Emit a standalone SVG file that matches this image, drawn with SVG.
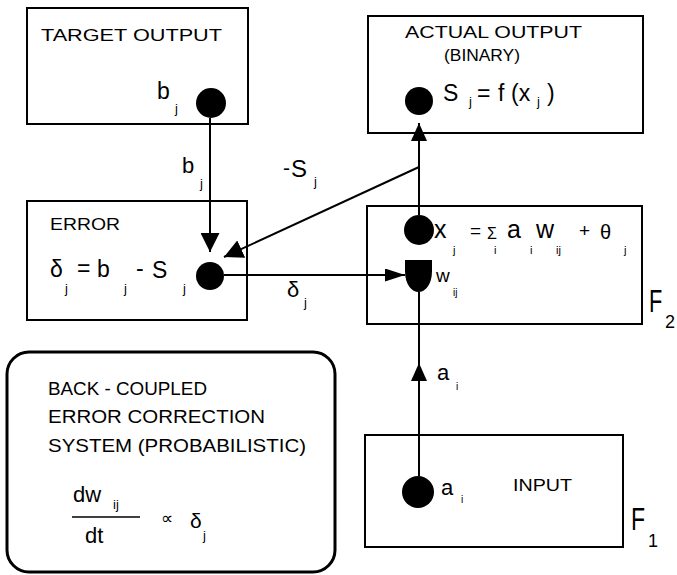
<svg xmlns="http://www.w3.org/2000/svg" width="677" height="575" viewBox="0 0 677 575">
<style>
.box{fill:none;stroke:#000;stroke-width:2}
.ln{fill:none;stroke:#000;stroke-width:2}
.dot{fill:#000}
text{font-family:"Liberation Sans","DejaVu Sans",sans-serif;fill:#000}
.lbl{font-size:17px}
.m{font-size:23px}
.s{font-size:13px}
.big{font-size:32px}
</style>
<defs>
<marker id="ah" viewBox="0 0 10 10" refX="10" refY="5" markerWidth="19" markerHeight="19" markerUnits="userSpaceOnUse" orient="auto"><path d="M0,0 L10,5 L0,10 Z" fill="#000"/></marker>
<marker id="ahv" viewBox="0 0 10 10" refX="10" refY="5" markerWidth="18" markerHeight="16" markerUnits="userSpaceOnUse" orient="auto" preserveAspectRatio="none"><path d="M0,0 L10,5 L0,10 Z" fill="#000"/></marker>
<marker id="ahn" viewBox="0 0 10 10" refX="10" refY="5" markerWidth="20" markerHeight="13" markerUnits="userSpaceOnUse" orient="auto" preserveAspectRatio="none"><path d="M0,0 L10,5 L0,10 Z" fill="#000"/></marker>
</defs>
<rect width="677" height="575" fill="#fff"/>

<g id="target">
<rect class="box" x="27" y="8" width="221" height="116"/>
<text class="lbl" x="41" y="41" textLength="181" lengthAdjust="spacingAndGlyphs">TARGET OUTPUT</text>
<text class="m" x="157" y="99">b</text>
<text class="s" x="175" y="113">j</text>
<circle class="dot" cx="211" cy="103" r="15"/>
</g>

<g id="actual">
<rect class="box" x="368" y="16" width="275" height="117"/>
<text class="lbl" x="405" y="38" textLength="177" lengthAdjust="spacingAndGlyphs">ACTUAL OUTPUT</text>
<text class="lbl" x="444" y="61" textLength="76" lengthAdjust="spacingAndGlyphs">(BINARY)</text>
<circle class="dot" cx="419" cy="101" r="14"/>
<text class="m" x="443" y="101">S</text>
<text class="s" x="469" y="106">j</text>
<text class="m" x="477" y="101">=</text>
<text class="m" x="498" y="101">f</text>
<text class="m" x="511" y="101">(x</text>
<text class="s" x="537" y="106">j</text>
<text class="m" x="547" y="101">)</text>
</g>

<g id="error">
<rect class="box" x="27" y="201" width="220" height="119"/>
<text class="lbl" x="50" y="230" textLength="70" lengthAdjust="spacingAndGlyphs">ERROR</text>
<text class="m" x="50" y="277">δ</text>
<text class="s" x="65" y="293">j</text>
<text class="m" x="77" y="276">=</text>
<text class="m" x="97" y="277">b</text>
<text class="s" x="124" y="293">j</text>
<text class="m" x="136" y="276">-</text>
<text class="m" x="152" y="278">S</text>
<text class="s" x="183" y="293">j</text>
<circle class="dot" cx="210" cy="276" r="14"/>
</g>

<g id="f2">
<rect class="box" x="367" y="206" width="275" height="118"/>
<circle class="dot" cx="419" cy="230" r="15"/>
<text x="434" y="238" style="font-size:25px">x</text>
<text class="s" x="453" y="254" style="font-size:11px">j</text>
<text x="470" y="237" style="font-size:19px">=</text>
<text x="487" y="239" style="font-size:16px">Σ</text>
<text class="s" x="494" y="254" style="font-size:11px">i</text>
<text x="507" y="238" style="font-size:25px">a</text>
<text class="s" x="530" y="254" style="font-size:11px">i</text>
<text x="536" y="238" style="font-size:25px">w</text>
<text class="s" x="556" y="254" style="font-size:11px">ij</text>
<text x="579" y="237" style="font-size:19px">+</text>
<text x="600" y="239" style="font-size:20px">θ</text>
<text class="s" x="624" y="254" style="font-size:11px">j</text>
<path class="dot" d="M405,260 L432,260 L432,271 C432,285 425,292 418.5,292 C412,292 405,285 405,271 Z"/>
<text x="436" y="282" style="font-size:19px">w</text>
<text class="s" x="453" y="296" style="font-size:10px">ij</text>
<text class="big" transform="translate(649,312) scale(0.68,1)">F</text>
<text x="665" y="328" style="font-size:18px">2</text>
</g>

<g id="input">
<rect class="box" x="365" y="435" width="258" height="112"/>
<circle class="dot" cx="418" cy="492" r="16"/>
<text x="441" y="495" style="font-size:22px">a</text>
<text class="s" x="461" y="503" style="font-size:10px">i</text>
<text class="lbl" x="513" y="491" textLength="59" lengthAdjust="spacingAndGlyphs">INPUT</text>
<text class="big" transform="translate(631,530) scale(0.72,1)">F</text>
<text x="648" y="547" style="font-size:18px">1</text>
</g>

<g id="backcoupled">
<rect x="7" y="352" width="328" height="220" rx="22" ry="22" fill="none" stroke="#000" stroke-width="3"/>
<text x="48" y="395" style="font-size:18px" textLength="159" lengthAdjust="spacingAndGlyphs">BACK - COUPLED</text>
<text x="48" y="423" style="font-size:18px" textLength="217" lengthAdjust="spacingAndGlyphs">ERROR CORRECTION</text>
<text x="48" y="452" style="font-size:18px" textLength="258" lengthAdjust="spacingAndGlyphs">SYSTEM (PROBABILISTIC)</text>
<text x="73" y="502" style="font-size:22px">dw</text>
<text class="s" x="113" y="509">ij</text>
<line class="ln" x1="72" y1="517" x2="140" y2="517" style="stroke-width:1.5"/>
<text x="85" y="543" style="font-size:22px">dt</text>
<text x="161" y="524" style="font-size:17px">∝</text>
<text x="190" y="528" style="font-size:21px">δ</text>
<text class="s" x="203" y="540">j</text>
</g>

<g id="connectors">
<line class="ln" x1="210" y1="118" x2="210" y2="252" marker-end="url(#ah)"/>
<text x="182" y="173" style="font-size:22px">b</text>
<text class="s" x="200" y="188">j</text>
<line class="ln" x1="419" y1="215" x2="419" y2="123" marker-end="url(#ahv)"/>
<line class="ln" x1="419" y1="167" x2="224" y2="257" marker-end="url(#ah)"/>
<text x="283" y="175" style="font-size:21px">-</text>
<text x="291" y="177" style="font-size:24px">S</text>
<text class="s" x="314" y="186">j</text>
<line class="ln" x1="224" y1="275" x2="405" y2="275" marker-end="url(#ahn)"/>
<text x="287" y="297" style="font-size:22px">δ</text>
<text class="s" x="304" y="307">j</text>
<line class="ln" x1="419" y1="476" x2="419" y2="363" marker-end="url(#ahv)"/>
<line class="ln" x1="419" y1="370" x2="419" y2="292"/>
<text x="437" y="380" style="font-size:22px">a</text>
<text class="s" x="456" y="390" style="font-size:10px">i</text>
</g>
</svg>
